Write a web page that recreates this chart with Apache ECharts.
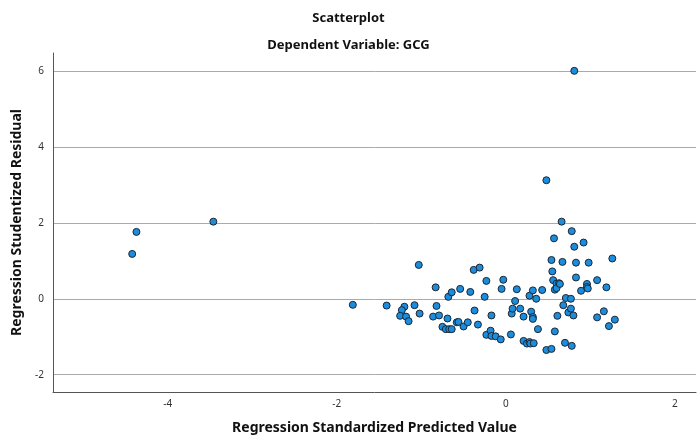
<!DOCTYPE html>
<html>
<head>
<meta charset="utf-8">
<script src="https://cdn.jsdelivr.net/npm/echarts@6/dist/echarts.min.js"></script>
<style>
  html, body { margin: 0; padding: 0; background: #fff; }
  #chart { width: 697px; height: 443px; }
</style>
</head>
<body>
<div id="chart"></div>
<script>
// Regression Standardized Predicted Value (x)
const predicted = [
  -4.42, -4.37, -3.46, -1.81, -1.41, -1.20, -1.23, -1.25, -1.18, -1.15,
  -1.08, -1.03, -1.02, -0.83, -0.82, -0.86, -0.79, -0.75, -0.71, -0.69,
  -0.68, -0.67, -0.64, -0.64, -0.58, -0.56, -0.54, -0.50, -0.45, -0.42,
  -0.38, -0.37, -0.33, -0.31, -0.25, -0.23, -0.23, -0.18, -0.17, -0.17,
  -0.12, -0.06, -0.05, -0.03, 0.06, 0.07, 0.08, 0.11, 0.13, 0.17,
  0.21, 0.21, 0.25, 0.28, 0.28, 0.29, 0.30, 0.32, 0.32, 0.32,
  0.33, 0.36, 0.38, 0.43, 0.48, 0.48, 0.54, 0.54, 0.55, 0.56,
  0.57, 0.58, 0.58, 0.60, 0.60, 0.61, 0.63, 0.64, 0.66, 0.67,
  0.68, 0.70, 0.71, 0.74, 0.77, 0.77, 0.78, 0.78, 0.80, 0.81,
  0.81, 0.83, 0.83, 0.89, 0.92, 0.96, 0.96, 0.97, 0.98, 1.08,
  1.08, 1.16, 1.19, 1.22, 1.26, 1.29
]
// Regression Studentized Residual (y)
const residual = [
  1.18, 1.76, 2.03, -0.16, -0.18, -0.21, -0.30, -0.45, -0.47, -0.59,
  -0.17, 0.89, -0.39, 0.30, -0.19, -0.47, -0.44, -0.74, -0.80, -0.52,
  0.05, -0.80, 0.17, -0.80, -0.62, -0.61, 0.26, -0.73, -0.62, 0.18,
  0.76, -0.31, -0.68, 0.82, 0.05, 0.47, -0.95, -0.84, -0.98, -0.44,
  -0.99, -1.07, 0.26, 0.50, -0.94, -0.39, -0.26, -0.06, 0.25, -0.26,
  -0.47, -1.11, -1.18, 0.08, -1.14, -1.18, -0.34, -0.48, 0.22, -0.53,
  -1.17, 0.00, -0.80, 0.23, 3.12, -1.35, 1.02, -1.32, 0.72, 0.49,
  1.59, 0.24, -0.86, 0.40, 0.28, -0.45, 0.41, 0.39, 2.03, 0.97,
  -0.17, -1.16, 0.02, -0.36, 0.00, -0.26, 1.78, -1.24, -0.44, 6.00,
  1.37, 0.95, 0.56, 0.21, 1.48, 0.39, 0.31, 0.27, 0.95, 0.49,
  -0.49, -0.33, 0.30, -0.72, 1.06, -0.55
]

const chart = echarts.init(document.getElementById('chart'))
const points = predicted.map((x, i) => [x, residual[i]])
const tickFont = 'Noto Sans'

const option = {
  animation: false,
  title: [
    {
      text: 'Scatterplot',
      left: 'center',
      top: 7,
      textStyle: { fontFamily: 'Noto Sans', fontSize: 13, fontWeight: 'bold', color: '#111' },
    },
    {
      text: 'Dependent Variable: GCG',
      left: 'center',
      top: 34,
      textStyle: { fontFamily: 'Noto Sans', fontSize: 13, fontWeight: 'bold', color: '#111' },
    },
  ],
  grid: { left: 53, top: 53, right: 1, bottom: 51 },
  xAxis: {
    type: 'value',
    min: -5.357,
    max: 2.25,
    splitNumber: 4,
    name: 'Regression Standardized Predicted Value',
    nameLocation: 'middle',
    nameGap: 29,
    nameTextStyle: { fontFamily: 'Noto Sans', fontSize: 14, fontWeight: 'bold', color: '#111' },
    axisLine: { show: true, onZero: false, lineStyle: { color: '#555', width: 1 } },
    axisTick: { show: false },
    axisLabel: {
      showMinLabel: false,
      showMaxLabel: false,
      margin: 7,
      fontFamily: tickFont,
      fontSize: 10,
      color: '#333',
    },
    splitLine: { show: false },
  },
  yAxis: {
    type: 'value',
    min: -2.455,
    max: 6.47,
    splitNumber: 5,
    name: 'Regression Studentized Residual',
    nameLocation: 'middle',
    nameGap: 25,
    nameTextStyle: { fontFamily: 'Noto Sans', fontSize: 14, fontWeight: 'bold', color: '#111' },
    axisLine: { show: true, onZero: false, lineStyle: { color: '#555', width: 1 } },
    axisTick: { show: false },
    axisLabel: {
      showMinLabel: false,
      showMaxLabel: false,
      margin: 9,
      fontFamily: tickFont,
      fontSize: 10,
      color: '#333',
    },
    splitLine: {
      show: true,
      showMinLine: false,
      showMaxLine: false,
      lineStyle: { color: '#aaa', width: 1 },
    },
  },
  series: [
    {
      type: 'scatter',
      data: points,
      symbol: 'circle',
      symbolSize: 7,
      itemStyle: {
        color: '#1c8ddd',
        borderColor: '#1a2633',
        borderWidth: 1,
        opacity: 1,
      },
    },
  ],
}

chart.setOption(option)
</script>
</body>
</html>
